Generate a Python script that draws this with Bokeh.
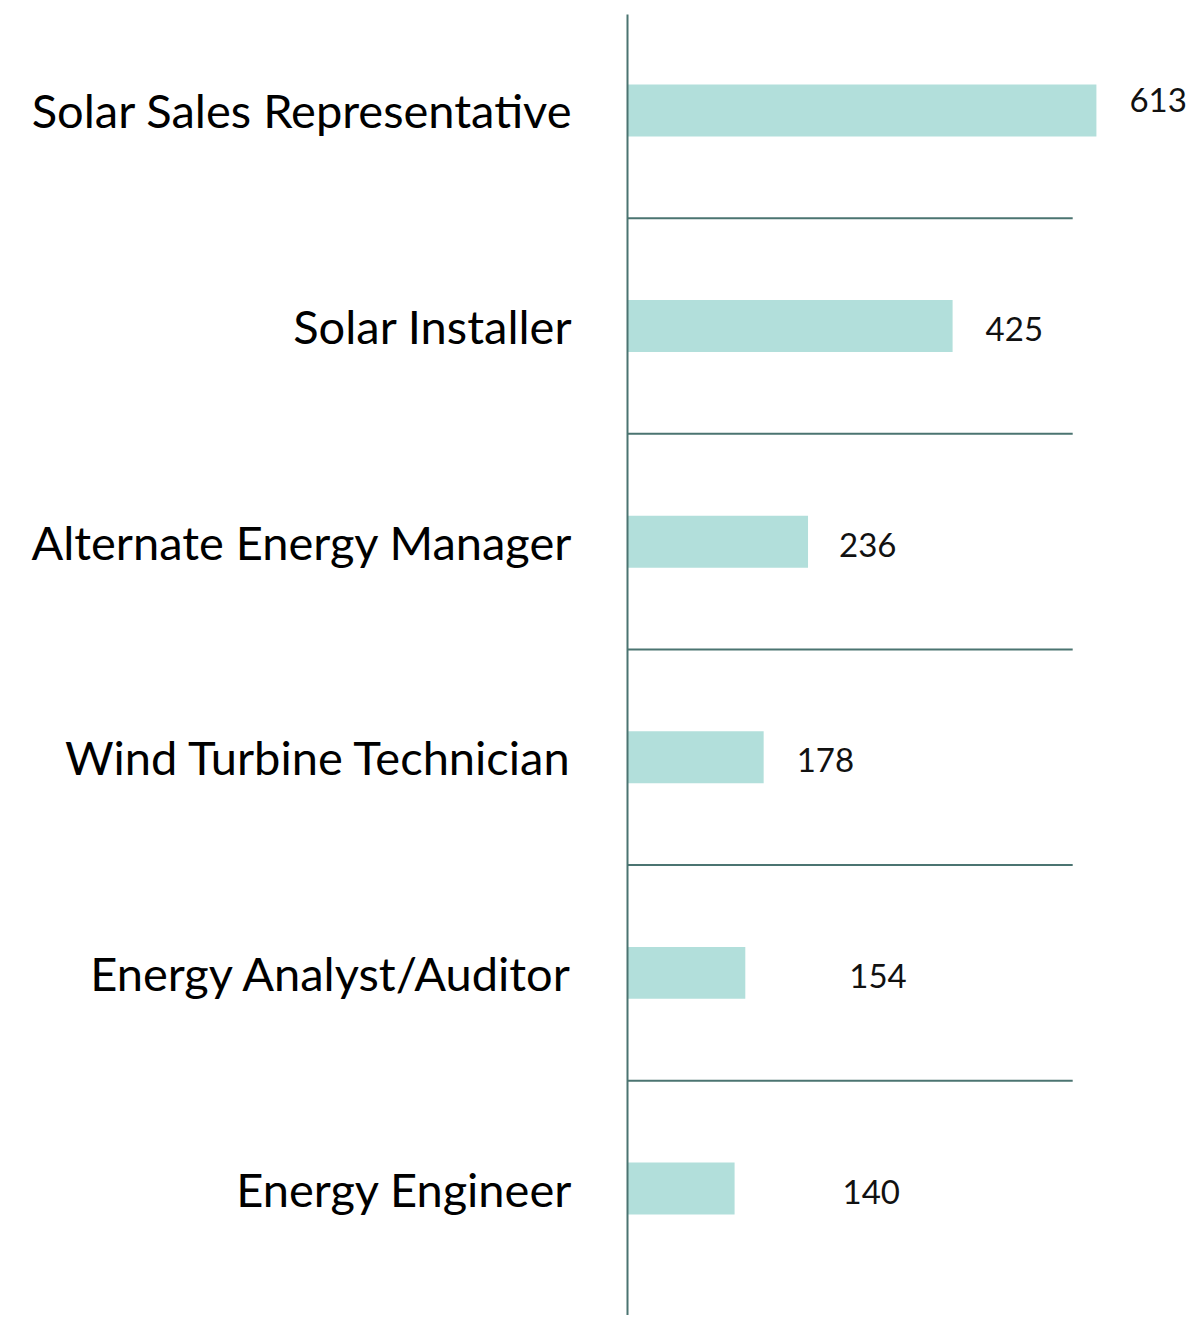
from bokeh.plotting import figure
from bokeh.models import ColumnDataSource, Range1d, FixedTicker
from bokeh.core.properties import value
from bokeh.embed import file_html
from bokeh.resources import INLINE

# ---- data ----
categories = [
    "Solar Sales Representative",
    "Solar Installer",
    "Alternate Energy Manager",
    "Wind Turbine Technician",
    "Energy Analyst/Auditor",
    "Energy Engineer",
]
counts = [613, 425, 236, 178, 154, 140]

# ---- label placement (style, not data) ----
label_x_offsets = [33, 33, 31, 33, 104, 108]
label_y_offsets = [-10, 3, 3, 3, 3, 3]

BAR_COLOR = "#b2dfdb"
LINE_COLOR = "#4b7471"
FONT = "Lato"

n = len(categories)
ypos = [n - 1 - i for i in range(n)]
mids = [y + 0.5 for y in ypos[1:]]

src = ColumnDataSource(dict(
    y=ypos, count=counts, label=[str(c) for c in counts],
    xoff=label_x_offsets, yoff=label_y_offsets,
))

W, H = 1190, 1315
p = figure(
    width=W, height=H, output_backend="svg", toolbar_location=None,
    x_range=Range1d(0, 736), y_range=Range1d(-0.589, 5.445),
    x_axis_location=None, min_border=0, min_border_left=627, min_border_top=14,
    min_border_bottom=0, min_border_right=0,
)
p.outline_line_color = None
p.xgrid.grid_line_color = None
p.ygrid.grid_line_color = None
p.background_fill_color = "white"
p.border_fill_color = "white"

p.hbar(y="y", left=0, right="count", height=0.241, source=src,
       fill_color=BAR_COLOR, line_color=None)

p.segment(x0=0, y0=mids, x1=582, y1=mids, line_color=LINE_COLOR, line_width=2)

p.text(x="count", y="y", text="label", x_offset="xoff", y_offset="yoff",
       source=src, text_font=value(FONT), text_font_size="33px",
       text_baseline="middle", text_align="left", text_color="#111111")

ax = p.yaxis[0]
ax.ticker = FixedTicker(ticks=ypos)
ax.major_label_overrides = {y: c for y, c in zip(ypos, categories)}
ax.axis_line_color = LINE_COLOR
ax.axis_line_width = 2
ax.major_tick_line_color = None
ax.minor_tick_line_color = None
ax.major_tick_out = 0
ax.major_tick_in = 0
ax.major_label_standoff = 55
ax.major_label_text_font = FONT
ax.major_label_text_font_size = "47px"
ax.major_label_text_color = "#000000"

open("out.html", "w").write(file_html(p, INLINE))
